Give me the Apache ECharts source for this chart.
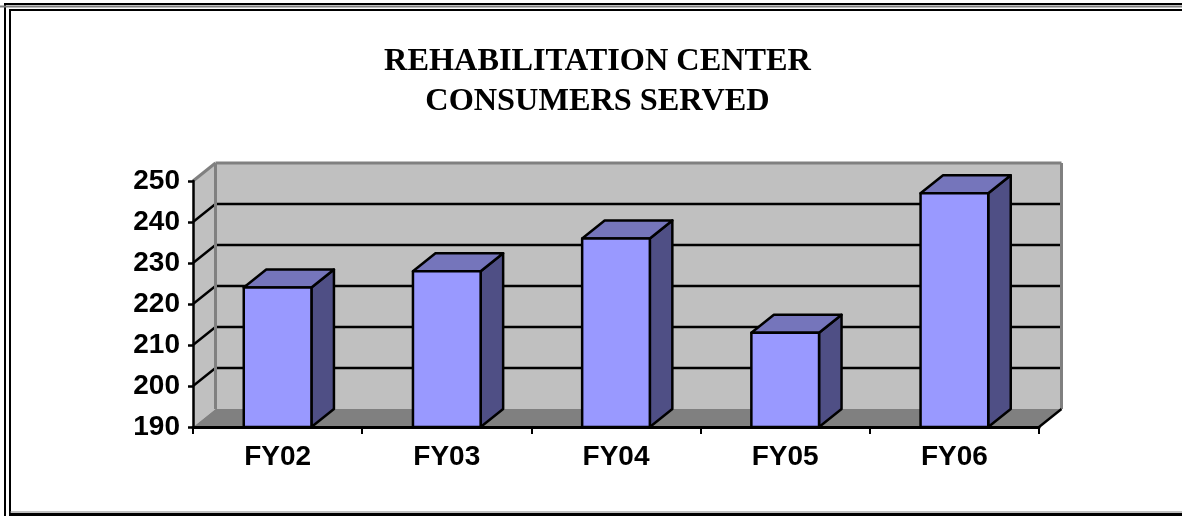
<!DOCTYPE html>
<html lang="en">
<head>
<meta charset="UTF-8">
<title>Rehabilitation Center</title>
<script src="https://cdn.jsdelivr.net/npm/echarts@6/dist/echarts.min.js"></script>
<style>
html, body { margin: 0; padding: 0; background: #fff; }
#main { width: 1182px; height: 516px; }
</style>
</head>
<body>
<div id="main"></div>
<script type="text/javascript">
var years = ['FY02', 'FY03', 'FY04', 'FY05', 'FY06'];
var consumers = [224, 228, 236, 213, 247];
var yTicks = [190, 200, 210, 220, 230, 240, 250];

// depth of the fake 3d box, in pixels
var DX = 22.5;
var DY = 18;

var myChart = echarts.init(document.getElementById('main'));

function poly(points, fill, stroke, width) {
    return {
        type: 'polygon',
        shape: { points: points },
        style: { fill: fill, stroke: stroke, lineWidth: width, lineJoin: 'round' }
    };
}

function seg(x1, y1, x2, y2, color, width) {
    return {
        type: 'line',
        shape: { x1: x1, y1: y1, x2: x2, y2: y2 },
        style: { stroke: color, lineWidth: width }
    };
}

// back wall, side wall, floor and the gridlines
function renderFrame(params, api) {
    var band = api.size([1, 0])[0];
    var left = api.coord([0, 190])[0] - band / 2;
    var right = api.coord([years.length - 1, 190])[0] + band / 2;
    var base = api.coord([0, 190])[1];
    var top = api.coord([0, 250])[1];
    var kids = [
        poly([[left, base], [left + DX, base - DY], [left + DX, top - DY], [left, top]], '#c0c0c0', 'none', 0),
        poly([[left + DX, base - DY], [right + DX, base - DY], [right + DX, top - DY], [left + DX, top - DY]], '#c0c0c0', 'none', 0)
    ];
    yTicks.forEach(function (v) {
        var y = api.coord([0, v])[1];
        if (v === 190) return;
        var color = v === 250 ? '#808080' : '#000';
        var width = v === 250 ? 3 : 2.5;
        kids.push(seg(left, y, left + DX, y - DY, color, width));
        kids.push(seg(left + DX, y - DY, right + DX, y - DY, color, width));
    });
    kids.push(seg(left + DX, base - DY, left + DX, top - DY, '#808080', 3));
    kids.push(seg(right + DX, base - DY, right + DX, top - DY, '#808080', 3));
    kids.push(poly([[left, base], [right, base], [right + DX, base - DY], [left + DX, base - DY]], '#808080', 'none', 0));
    kids.push(seg(right, base, right + DX, base - DY, '#000', 2.5));
    return { type: 'group', children: kids };
}

function renderBar(params, api) {
    var cx = api.coord([api.value(0), 0])[0];
    var w = api.size([1, 0])[0] * 0.4;
    var l = cx - w / 2;
    var r = cx + w / 2;
    var base = api.coord([0, 190])[1];
    var t = api.coord([0, api.value(1)])[1];
    return {
        type: 'group',
        children: [
            poly([[r, t], [r + DX, t - DY], [r + DX, base - DY], [r, base]], '#4f4f85', '#000', 2.5),
            poly([[l, t], [l + DX, t - DY], [r + DX, t - DY], [r, t]], '#7575bb', '#000', 2.5),
            poly([[l, t], [r, t], [r, base], [l, base]], '#9999ff', '#000', 2.5)
        ]
    };
}

var option = {
    animation: false,
    backgroundColor: '#fff',
    title: {
        text: 'REHABILITATION CENTER\nCONSUMERS SERVED',
        left: 592.5,
        top: 36,
        textAlign: 'center',
        textStyle: {
            fontFamily: 'Liberation Serif',
            fontWeight: 'bold',
            fontSize: 32.3,
            lineHeight: 40.5,
            color: '#000'
        }
    },
    grid: { left: 193, right: 143, top: 181, bottom: 89 },
    xAxis: {
        type: 'category',
        data: years,
        z: 5,
        axisLine: { lineStyle: { color: '#000', width: 3 } },
        axisTick: { show: true, alignWithLabel: false, length: 7, lineStyle: { color: '#000', width: 2 } },
        axisLabel: {
            interval: 0,
            margin: 16,
            fontFamily: 'Liberation Sans',
            fontWeight: 'bold',
            fontSize: 28,
            color: '#000'
        }
    },
    yAxis: {
        type: 'value',
        min: 190,
        max: 250,
        interval: 10,
        z: 5,
        splitLine: { show: false },
        axisLine: { show: true, lineStyle: { color: '#000', width: 2.5 } },
        axisTick: { show: true, length: 5, lineStyle: { color: '#000', width: 2.5 } },
        axisLabel: {
            margin: 13,
            padding: [4, 0, 0, 0],
            fontFamily: 'Liberation Sans',
            fontWeight: 'bold',
            fontSize: 28,
            color: '#000'
        }
    },
    graphic: [
        { type: 'rect', shape: { x: 5, y: 4, width: 1300, height: 600 }, style: { fill: 'none', stroke: '#000', lineWidth: 2 }, silent: true },
        { type: 'line', shape: { x1: 0, y1: 6.5, x2: 1182, y2: 6.5 }, style: { stroke: '#808080', lineWidth: 2 }, silent: true },
        { type: 'line', shape: { x1: 10, y1: 10, x2: 1182, y2: 10 }, style: { stroke: '#000', lineWidth: 2 }, silent: true },
        { type: 'line', shape: { x1: 10, y1: 9, x2: 10, y2: 516 }, style: { stroke: '#000', lineWidth: 2 }, silent: true },
        { type: 'line', shape: { x1: 10, y1: 512, x2: 1182, y2: 512 }, style: { stroke: '#808080', lineWidth: 1 }, silent: true },
        { type: 'line', shape: { x1: 9, y1: 514.5, x2: 1182, y2: 514.5 }, style: { stroke: '#000', lineWidth: 3 }, silent: true }
    ],
    series: [
        { type: 'custom', z: 1, silent: true, renderItem: renderFrame, data: [[0, 190]], clip: false },
        {
            type: 'custom',
            z: 2,
            renderItem: renderBar,
            encode: { x: 0, y: 1 },
            data: consumers.map(function (v, i) { return [i, v]; }),
            clip: false
        }
    ]
};

myChart.setOption(option);
</script>
</body>
</html>
